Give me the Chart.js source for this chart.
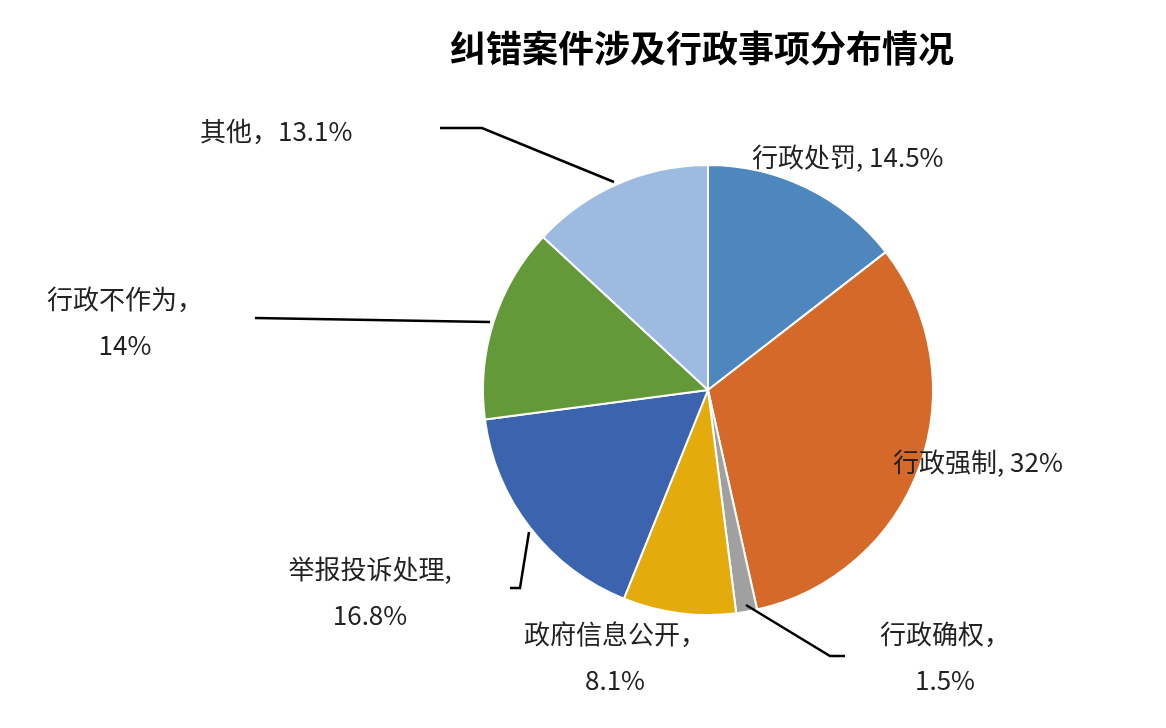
<!DOCTYPE html>
<html><head><meta charset="utf-8">
<script src="https://cdn.jsdelivr.net/npm/chart.js@4"></script>
<style>html,body{margin:0;padding:0;background:#fff}#w{width:1166px;height:728px}</style>
</head><body><div id="w"><canvas id="c"></canvas></div>
<script>
const categories = ['行政处罚','行政强制','行政确权','政府信息公开','举报投诉处理','行政不作为','其他'];
const values = [14.5, 32, 1.5, 8.1, 16.8, 14, 13.1];
const valueLabels = ['14.5%','32%','1.5%','8.1%','16.8%','14%','13.1%'];
const colors = ['#4E86BE','#D5692A','#A0A0A0','#E3AB0B','#3C64AE','#64993A','#9DBAE0'];
const F = '"Noto Sans CJK SC","Noto Sans",sans-serif';
// label layout: [lines, x, y, align]
const labelLayout = [
  [[categories[0]+', '+valueLabels[0]], 752, 157, 'left'],
  [[categories[1]+', '+valueLabels[1]], 893, 462, 'left'],
  [[categories[2]+'，', valueLabels[2]], 945, 634, 'center'],
  [[categories[3]+'，', valueLabels[3]], 615, 634, 'center'],
  [[categories[4]+',', valueLabels[4]], 370, 569, 'center'],
  [[categories[5]+'，', valueLabels[5]], 125, 299, 'center'],
  [[categories[6]+'，'+valueLabels[6]], 200, 131, 'left']
];
const leaders = [
  null, null,
  [[845,656],[830,656],[746,605]],
  null,
  [[510,588],[520,588],[529,532]],
  [[255,318],[490,322]],
  [[440,128],[482,128],[614,182]]
];
const overlay = {
  id:'overlay',
  afterDraw(chart){
    const ctx = chart.ctx;
    ctx.save();
    ctx.fillStyle='#000';
    ctx.font='bold 36px '+F;
    ctx.textAlign='center';ctx.textBaseline='middle';
    ctx.fillText('纠错案件涉及行政事项分布情况', 702, 48);
    ctx.strokeStyle='#000';ctx.lineWidth=2.5;
    leaders.forEach(l=>{ if(!l) return; ctx.beginPath(); l.forEach((p,i)=>i?ctx.lineTo(p[0],p[1]):ctx.moveTo(p[0],p[1])); ctx.stroke(); });
    ctx.fillStyle='#222';
    ctx.font='26px '+F;
    labelLayout.forEach(([lines,x,y,al])=>{
      ctx.textAlign=al;
      lines.forEach((t,i)=>ctx.fillText(t,x,y+i*46));
    });
    ctx.restore();
  }
};
new Chart(document.getElementById('c'),{
  type:'pie',
  data:{labels:categories,datasets:[{data:values,backgroundColor:colors,borderColor:'#fff',borderWidth:2}]},
  options:{
    responsive:true,maintainAspectRatio:false,animation:false,
    layout:{padding:{top:164,bottom:112,left:482,right:232}},
    plugins:{legend:{display:false},title:{display:false},tooltip:{enabled:false}}
  },
  plugins:[overlay]
});
</script></body></html>
